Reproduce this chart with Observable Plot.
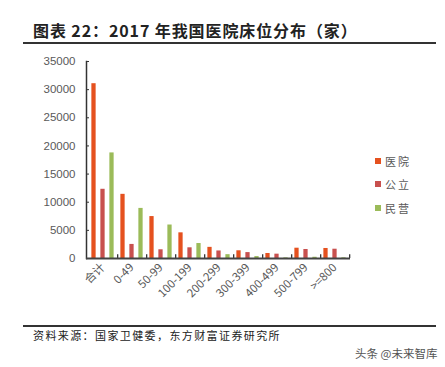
<!DOCTYPE html>
<html>
<head>
<meta charset="utf-8">
<script src="https://cdn.jsdelivr.net/npm/d3@7"></script>
<script src="https://cdn.jsdelivr.net/npm/@observablehq/plot@0.6"></script>
<style>
  html, body { margin: 0; padding: 0; background: #fff; }
  body { width: 445px; height: 367px; position: relative; overflow: hidden; font-family: "Noto Sans CJK SC", "Liberation Sans", sans-serif; }
  #title { position: absolute; left: 33px; top: 18px; font-size: 16px; font-weight: bold; color: #222; white-space: nowrap; letter-spacing: 0.9px; }
  #rule1 { position: absolute; left: 23px; width: 413px; top: 42px; height: 2px; background: #333; }
  #chart { position: absolute; left: 0; top: 48px; }
  #legend { position: absolute; left: 375px; top: 149px; font-size: 11px; color: #595959; }
  #legend .item { height: 23.5px; display: flex; align-items: center; }
  #legend .sw { width: 6px; height: 6px; margin-right: 4px; }
  #legend span { letter-spacing: 2px; }
  #rule2 { position: absolute; left: 23px; width: 413px; top: 325px; height: 1.5px; background: #333; }
  #source { position: absolute; left: 33px; top: 327px; font-size: 11px; color: #222; letter-spacing: 1.4px; white-space: nowrap; }
  #mark { position: absolute; left: 355px; top: 345px; font-size: 11.5px; color: #555; white-space: nowrap; }
</style>
</head>
<body>
<div id="title">图表 22：2017 年我国医院床位分布（家）</div>
<div id="rule1"></div>
<div id="chart"></div>
<div id="legend"></div>
<div id="rule2"></div>
<div id="source">资料来源：国家卫健委，东方财富证券研究所</div>
<div id="mark">头条 @未来智库</div>
<script>
const categories = ["合计", "0-49", "50-99", "100-199", "200-299", "300-399", "400-499", "500-799", ">=800"];
const seriesNames = ["医院", "公立", "民营"];
const hospitalAll = [31056, 11400, 7450, 4560, 1980, 1370, 890, 1830, 1780];
const hospitalPublic = [12297, 2500, 1550, 1900, 1340, 1050, 770, 1600, 1650];
const hospitalPrivate = [18759, 8900, 5950, 2660, 680, 340, 110, 220, 120];
const yTicks = [0, 5000, 10000, 15000, 20000, 25000, 30000, 35000];
const colors = ["#E5511F", "#C8504E", "#9BBB59"];

const valuesBySeries = [hospitalAll, hospitalPublic, hospitalPrivate];
const rows = [];
seriesNames.forEach((s, si) => categories.forEach((c, ci) => rows.push({category: c, series: s, value: valuesBySeries[si][ci]})));

const W = 445, H = 262;
const mL = 86, mR = 95, mT = 13, mB = 52;
const bw = (W - mL - mR) / categories.length;
const barW = 4.6;
const inset = (bw - barW) / 2;
const offsets = [-9, 0, 9];

const barMarks = seriesNames.map((s, si) =>
  Plot.barY(rows.filter(d => d.series === s), {
    x: "category", y: "value", fill: colors[si],
    insetLeft: inset, insetRight: inset, dx: offsets[si]
  })
);

const chart = Plot.plot({
  width: W, height: H,
  marginLeft: mL, marginRight: mR, marginTop: mT, marginBottom: mB,
  style: {fontFamily: "'Liberation Sans', Arial, sans-serif", fontSize: "11.5px", color: "#595959", background: "transparent"},
  x: {type: "band", domain: categories, padding: 0, label: null},
  y: {domain: [0, 35000], label: null},
  marks: [
    ...barMarks,
    Plot.axisY(yTicks, {tickSize: -3, tickPadding: 14, tickFormat: d3.format("d"), stroke: "#333", fill: "#595959", label: null}),
    Plot.axisX({tickRotate: -45, tickSize: 0, tickPadding: 7, label: null, fontFamily: "'Noto Sans CJK SC', 'Liberation Sans', sans-serif", fontSize: 11.5}),
    Plot.ruleX(categories, {x: d => d, dx: bw / 2, y1: 0, y2: 650, stroke: "#333", strokeWidth: 1.3}),
    Plot.frame({anchor: "left", stroke: "#333", strokeWidth: 1.5}),
    Plot.ruleY([0], {stroke: "#444", strokeWidth: 2})
  ]
});
document.getElementById("chart").appendChild(chart);

const legend = document.getElementById("legend");
seriesNames.forEach((s, i) => {
  const item = document.createElement("div");
  item.className = "item";
  item.innerHTML = `<div class="sw" style="background:${colors[i]}"></div><span>${s}</span>`;
  legend.appendChild(item);
});
</script>
</body>
</html>
